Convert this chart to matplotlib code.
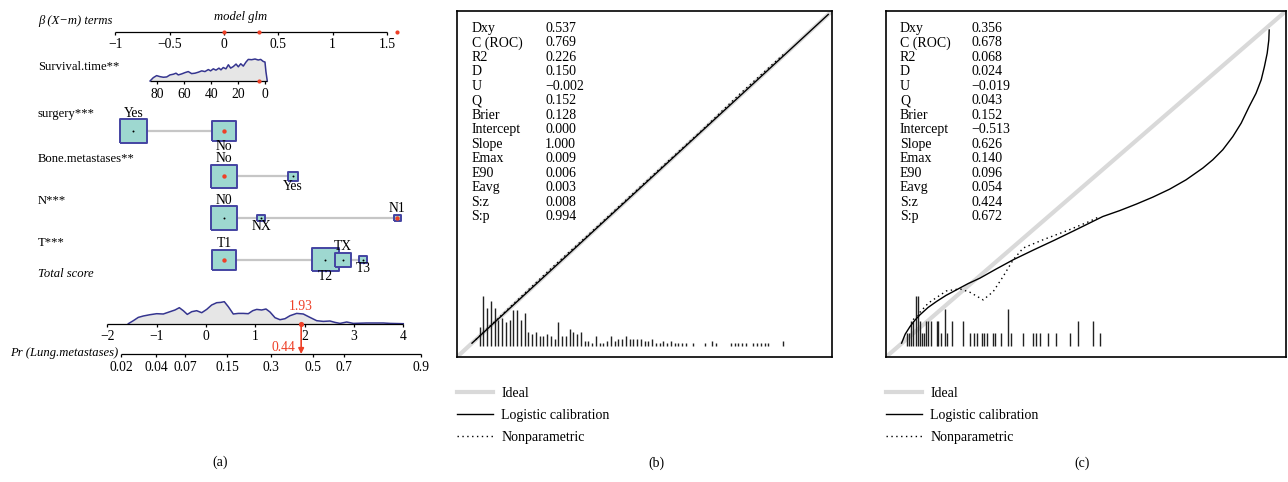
import numpy as np
import matplotlib.pyplot as plt
from matplotlib.lines import Line2D

plt.rcParams['font.family'] = ['Liberation Serif', 'DejaVu Serif']
plt.rcParams['font.size'] = 10

# ---------------- (a) nomogram data ----------------
beta_ticks = [-1, -0.5, 0, 0.5, 1, 1.5]
beta_labels = ['\u22121', '\u22120.5', '0', '0.5', '1', '1.5']
obs_beta = [0, 0.325, 1.594]

surv_coef = -0.01238
surv_mean = 30.45
surv_ticks = [80, 60, 40, 20, 0]
surv_months = [85.4, 83.0, 80.5, 78.0, 75.5, 73.0, 70.6, 68.1, 66.1, 64.4, 61.9, 59.4,
               57.0, 54.5, 52.0, 49.5, 47.0, 44.6, 42.1, 40.4, 38.4, 36.4, 34.2, 32.7,
               31.0, 29.0, 27.2, 25.5, 23.5, 21.5, 19.8, 18.0, 16.1, 14.1, 12.4, 9.9,
               7.4, 5.0, 3.2, 1.3, 0.0, -0.7, -1.7]
surv_dens = [0, 3.3, 5.3, 4.3, 3.7, 4.0, 6.0, 6.7, 7.7, 6.0, 7.0, 8.3,
             9.3, 7.3, 7.7, 8.7, 10.0, 9.3, 11.3, 10.0, 12.0, 10.7, 12.7, 11.0,
             13.3, 12.0, 16.0, 12.7, 14.3, 16.7, 14.0, 17.0, 14.7, 18.7, 21.3, 21.0,
             21.7, 20.7, 21.3, 19.3, 18.7, 9.3, 0]
surv_obs = 4.2

var_names = ['surgery***', 'Bone.metastases**', 'N***', 'T***']
var_levels = [['Yes', 'No'], ['No', 'Yes'], ['N0', 'NX', 'N1'], ['T1', 'T2', 'TX', 'T3']]
var_beta = [[-0.834, 0], [0, 0.633], [0, 0.342, 1.596], [0, 0.932, 1.092, 1.282]]
var_freq = [[0.57, 0.43], [0.875, 0.125], [0.85, 0.075, 0.075], [0.34, 0.445, 0.17, 0.04]]
obs_level = ['No', 'No', 'N1', 'T1']

score_ticks = [-2, -1, 0, 1, 2, 3, 4]
score_labels = ['\u22122', '\u22121', '0', '1', '2', '3', '4']
score_x = [-1.574, -1.473, -1.372, -1.270, -1.134, -0.999, -0.865, -0.729, -0.628, -0.540,
           -0.459, -0.378, -0.289, -0.188, -0.086, 0.015, 0.116, 0.218, 0.299, 0.372,
           0.453, 0.554, 0.656, 0.757, 0.858, 0.948, 1.029, 1.130, 1.217, 1.298,
           1.400, 1.501, 1.602, 1.704, 1.839, 1.973, 2.109, 2.245, 2.379, 2.515,
           2.616, 2.718, 2.853, 2.987, 3.258, 3.595, 3.731, 4.0]
score_dens = [0, 3.0, 6.3, 7.7, 9.0, 10.0, 9.7, 12.0, 13.7, 16.0,
              13.0, 9.3, 12.0, 13.0, 11.0, 14.3, 18.7, 21.0, 21.3, 22.0,
              17.0, 9.7, 10.3, 10.3, 10.0, 13.0, 14.3, 13.7, 14.7, 11.7,
              6.0, 4.0, 5.0, 8.0, 10.3, 9.7, 6.3, 3.0, 2.3, 2.7,
              1.3, 0.3, 1.7, 0.3, 0.7, 0.7, 0.3, 0]
obs_score = 1.93
obs_pr = 0.44
pr_ticks = [0.02, 0.04, 0.07, 0.15, 0.3, 0.5, 0.65, 0.9]
pr_labels = ['0.02', '0.04', '0.07', '0.15', '0.3', '0.5', '0.7', '0.9']

# ---------------- (b), (c) calibration data ----------------
stat_names = ['Dxy', 'C (ROC)', 'R2', 'D', 'U', 'Q', 'Brier', 'Intercept', 'Slope',
              'Emax', 'E90', 'Eavg', 'S:z', 'S:p']
stats_b = [0.537, 0.769, 0.226, 0.150, -0.002, 0.152, 0.128, 0.000, 1.000,
           0.009, 0.006, 0.003, 0.008, 0.994]
stats_c = [0.356, 0.678, 0.068, 0.024, -0.019, 0.043, 0.152, -0.513, 0.626,
           0.140, 0.096, 0.054, 0.424, 0.672]

spike_b_x = [0.06, 0.07, 0.08, 0.09, 0.10, 0.11, 0.12, 0.13, 0.14, 0.15, 0.16, 0.17,
             0.18, 0.19, 0.20, 0.21, 0.22, 0.23, 0.24, 0.25, 0.26, 0.27, 0.28, 0.29,
             0.30, 0.31, 0.32, 0.33, 0.34, 0.35, 0.36, 0.37, 0.38, 0.39, 0.40, 0.41,
             0.42, 0.43, 0.44, 0.45, 0.46, 0.47, 0.48, 0.49, 0.50, 0.51, 0.52,
             0.53, 0.54, 0.55, 0.56, 0.57, 0.58, 0.59, 0.60, 0.61, 0.63, 0.66, 0.68,
             0.69, 0.73, 0.74, 0.75, 0.76, 0.77, 0.79, 0.80, 0.81, 0.82, 0.83, 0.87]
spike_b_n = [8, 21, 16, 19, 16, 11, 12, 10, 11, 15, 15, 11,
             14, 6, 5, 6, 4, 4, 5, 4, 3, 10, 4, 4,
             7, 6, 5, 6, 2, 2, 1, 4, 1, 1, 2, 4,
             2, 3, 3, 4, 3, 3, 3, 3, 2, 2, 3,
             1, 1, 2, 1, 2, 1, 1, 1, 1, 1, 1, 2,
             1, 1, 1, 1, 1, 1, 1, 1, 1, 1, 1, 2]
logit_b_x = [0.04, 0.99]
logit_b_y = [0.04, 0.99]
np_b_x = [0.05, 0.15, 0.25, 0.35, 0.45, 0.55, 0.65, 0.75, 0.87]
np_b_y = [0.05, 0.153, 0.255, 0.353, 0.453, 0.553, 0.652, 0.756, 0.874]

spike_c_x = [0.053, 0.058, 0.063, 0.068, 0.074, 0.079, 0.085, 0.090, 0.096, 0.101,
             0.106, 0.112, 0.127, 0.131, 0.137, 0.147, 0.152, 0.166, 0.193, 0.210,
             0.221, 0.227, 0.241, 0.246, 0.253, 0.267, 0.273, 0.287, 0.304, 0.313,
             0.343, 0.368, 0.376, 0.384, 0.405, 0.426, 0.459, 0.481, 0.517, 0.536]
spike_c_n = [1, 1, 2, 2, 4, 4, 2, 1, 1, 2,
             2, 2, 2, 2, 1, 3, 1, 2, 2, 1,
             1, 1, 1, 1, 1, 1, 1, 1, 3, 1,
             1, 1, 1, 1, 1, 1, 1, 2, 2, 1]
logit_c_x = [0.039, 0.048, 0.060, 0.072, 0.085, 0.105, 0.127, 0.150, 0.176, 0.205,
             0.235, 0.275, 0.318, 0.370, 0.420, 0.470, 0.542, 0.584, 0.626, 0.667,
             0.709, 0.750, 0.792, 0.817, 0.842, 0.867, 0.888, 0.908, 0.925, 0.938,
             0.946, 0.953, 0.957, 0.958]
logit_c_y = [0.040, 0.066, 0.088, 0.106, 0.122, 0.143, 0.161, 0.178, 0.194, 0.212,
             0.228, 0.254, 0.281, 0.310, 0.337, 0.365, 0.406, 0.423, 0.442, 0.462,
             0.485, 0.512, 0.546, 0.570, 0.599, 0.637, 0.676, 0.724, 0.762, 0.801,
             0.839, 0.878, 0.916, 0.945]
np_c_x = [0.068, 0.106, 0.151, 0.185, 0.210, 0.243, 0.268, 0.293, 0.318, 0.343,
          0.393, 0.459, 0.509, 0.534]
np_c_y = [0.108, 0.156, 0.191, 0.197, 0.187, 0.165, 0.189, 0.233, 0.281, 0.315,
          0.339, 0.368, 0.392, 0.406]

RED = '#EE4027'
NAVY = '#35358F'
BOXFILL = '#9ED8D0'
BOXEDGE = '#4444A2'
GREYFILL = '#E6E6E6'
LINKGREY = '#C6C6C6'
IDEAL = '#D9D9D9'
FS_A = 9.1
FS_TICK = 9.8
BOX = [(-1, -0.87), (1, -0.87), (1, 0.87), (-1, 0.87), (-1, -0.87)]

W, H = 1288, 482
fig = plt.figure(figsize=(W / 100, H / 100), dpi=100)

# ---------- panel (a) ----------
ax = fig.add_axes([0, 0, 440 / W, 1])
ax.set_xlim(-224 / 108.7, 216 / 108.7)
ax.set_ylim(H, 0)
ax.axis('off')
lab = ax.get_yaxis_transform()
lab_x = 38 / 440

ax.text(lab_x, 21, '\u03b2 (X\u2212m) terms', transform=lab, style='italic', va='center',
        fontsize=FS_A)
ax.text(240.7 / 440, 17.3, 'model glm', transform=lab, style='italic', ha='center',
        va='center', fontsize=FS_A)

y_beta = 32.3
ax.hlines(y_beta, min(beta_ticks), max(beta_ticks), color='k', lw=0.9)
ax.vlines(beta_ticks, y_beta, y_beta + 3, color='k', lw=0.9)
for t, s in zip(beta_ticks, beta_labels):
    ax.text(t, 45, s, ha='center', va='center', fontsize=FS_TICK)
ax.scatter(obs_beta, [y_beta] * len(obs_beta), s=9, color=RED, zorder=5, lw=0)

# survival time
y_surv = 81
ax.text(lab_x, 67.3, 'Survival.time**', transform=lab, va='center', fontsize=FS_A)
xb = surv_coef * (np.array(surv_months) - surv_mean)
h = np.array(surv_dens) / max(surv_dens) * 22
ax.fill_between(xb, y_surv - h, y_surv, color=GREYFILL, lw=0)
ax.plot(xb, y_surv - h, color=NAVY, lw=1.1)
ax.hlines(y_surv, xb.min(), xb.max(), color='k', lw=0.9)
st = surv_coef * (np.array(surv_ticks) - surv_mean)
ax.vlines(st, y_surv, y_surv + 3, color='k', lw=0.9)
for t, s in zip(st, surv_ticks):
    ax.text(t, 95, str(s), ha='center', va='center', fontsize=FS_TICK)
ax.scatter([surv_coef * (surv_obs - surv_mean)], [y_surv], s=9, color=RED, zorder=5, lw=0)

# categorical rows
row_y = [131, 176.3, 218, 259.7]
for name, levels, betas, freqs, obs, y in zip(var_names, var_levels, var_beta,
                                              var_freq, obs_level, row_y):
    ax.text(lab_x, y - 17, name, transform=lab, va='center', fontsize=FS_A)
    ax.hlines(y, min(betas), max(betas), color=LINKGREY, lw=1.6, zorder=1)
    sizes = 26.5 * np.sqrt(np.array(freqs) / max(freqs))
    ax.scatter(betas, [y] * len(betas), s=(sizes * 0.72) ** 2, marker=BOX,
               facecolor=BOXFILL, edgecolor=BOXEDGE, lw=1.4, zorder=3)
    order = np.argsort(betas)
    for k, i in enumerate(order):
        ax.scatter([betas[i]], [y], s=10 if levels[i] == obs else 2,
                   color=RED if levels[i] == obs else 'k', zorder=4, lw=0)
        half = sizes[i] * 0.87 / 2
        if k % 2 == 0:
            ax.text(betas[i], y - half - 6, levels[i], ha='center', va='center',
                    fontsize=FS_TICK)
        else:
            ax.text(betas[i], y + half + 5.5, levels[i], ha='center', va='center',
                    fontsize=FS_TICK)

ax.text(lab_x, 274, 'Total score', transform=lab, style='italic', va='center',
        fontsize=FS_A)

# total score + probability (score units)
axs = fig.add_axes([0, 0, 440 / W, 1])
axs.set_xlim(-2 - 107.3 / 49.33, -2 + (440 - 107.3) / 49.33)
axs.set_ylim(H, 0)
axs.axis('off')

y_sc = 323.7
hs = np.array(score_dens) / max(score_dens) * 22
axs.fill_between(score_x, y_sc - hs, y_sc, color=GREYFILL, lw=0)
axs.plot(score_x, y_sc - hs, color=NAVY, lw=1.1)
axs.hlines(y_sc, min(score_ticks), max(score_ticks), color='k', lw=0.9)
axs.vlines(score_ticks, y_sc, y_sc + 3, color='k', lw=0.9)
for t, s in zip(score_ticks, score_labels):
    axs.text(t, 336.7, s, ha='center', va='center', fontsize=FS_TICK)


def to_score(p):
    p = np.asarray(p, dtype=float)
    return np.log(p / (1 - p)) - np.log(obs_pr / (1 - obs_pr)) + obs_score


y_pr = 354
px = to_score(pr_ticks)
axs.hlines(y_pr, px.min(), px.max(), color='k', lw=0.9)
axs.vlines(px, y_pr, y_pr + 3, color='k', lw=0.9)
for t, s in zip(px, pr_labels):
    axs.text(t, 367.3, s, ha='center', va='center', fontsize=FS_TICK)
axs.annotate('Pr (Lung.metastases)', xy=(px.min(), y_pr - 1.3), xytext=(-2, 0),
             textcoords='offset points', ha='right', va='center', style='italic',
             fontsize=FS_A)

axs.annotate('', xy=(obs_score, y_pr), xytext=(obs_score, y_sc),
             arrowprops=dict(arrowstyle='-|>', color=RED, lw=1.2, mutation_scale=8,
                             shrinkA=0, shrinkB=0))
axs.scatter([obs_score], [y_sc], s=14, color=RED, zorder=5, lw=0)
axs.text(obs_score, 306.7, f'{obs_score:.2f}', color=RED, ha='center', va='center',
         fontsize=FS_TICK)
axs.annotate(f'{obs_pr:.2f}', xy=(to_score(obs_pr), 347.3), xytext=(-4, 0),
             textcoords='offset points', color=RED, ha='right', va='center',
             fontsize=FS_TICK)

fig.text(220 / W, 1 - 462 / H, '(a)', ha='center', va='center')


# ---------- panels (b), (c) ----------
def calib_panel(left, right, stats, sx, sn, lx, ly, nx, ny, lab_pos, val_pos):
    a = fig.add_axes([left / W, 1 - 357 / H, (right - left) / W, 346 / H])
    a.set_xlim(0, 1)
    a.set_ylim(0, 1)
    a.set_xticks([])
    a.set_yticks([])
    for sp in a.spines.values():
        sp.set_linewidth(1.2)
    a.plot([0, 1], [0, 1], color=IDEAL, lw=3, solid_capstyle='butt', zorder=1)
    a.plot(lx, ly, color='k', lw=1.0, zorder=3, solid_joinstyle='round')
    a.plot(nx, ny, color='k', lw=1.0, ls=(0, (1, 2.5)), zorder=2)
    sn = np.array(sn)
    a.vlines(sx, 0.033, 0.033 + sn / sn.max() * 0.142, color='#222222', lw=1.0)
    for i, (nm, v) in enumerate(zip(stat_names, stats)):
        yy = 1 - (17.3 + 14.5 * i) / 346
        a.text(lab_pos, yy, nm, transform=a.transAxes, va='center')
        a.text(val_pos, yy, f'{v:.3f}'.replace('-', '\u2212'), transform=a.transAxes,
               va='center')
    handles = [Line2D([], [], color=IDEAL, lw=3),
               Line2D([], [], color='k', lw=1.0),
               Line2D([], [], color='k', lw=1.0, ls=(0, (1, 2.5)))]
    a.legend(handles, ['Ideal', 'Logistic calibration', 'Nonparametric'],
             loc='upper left', bbox_to_anchor=(0, -0.086), frameon=False,
             borderaxespad=0, borderpad=0, handlelength=2.6, handletextpad=0.6,
             labelspacing=0.66, fontsize=10)
    return a


calib_panel(457, 832, stats_b, spike_b_x, spike_b_n, logit_b_x, logit_b_y,
            np_b_x, np_b_y, 0.039, 0.235)
calib_panel(886, 1286, stats_c, spike_c_x, spike_c_n, logit_c_x, logit_c_y,
            np_c_x, np_c_y, 0.035, 0.214)

fig.text(656 / W, 1 - 463 / H, '(b)', ha='center', va='center')
fig.text(1082 / W, 1 - 463 / H, '(c)', ha='center', va='center')

fig.savefig('out.png', dpi=100)
